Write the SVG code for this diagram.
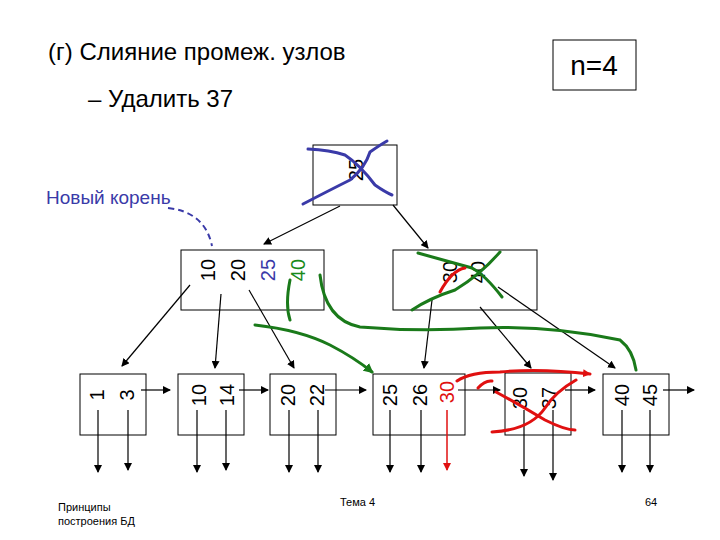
<svg xmlns="http://www.w3.org/2000/svg" width="720" height="540" viewBox="0 0 720 540">
<style>
text{font-family:"Liberation Sans",Arial,sans-serif}
.box{fill:#fff;stroke:#000;stroke-width:1}
.k{font-size:20px;text-anchor:middle;dominant-baseline:central}
.e{fill:none;stroke:#000;stroke-width:1.2;marker-end:url(#a)}
.g{fill:none;stroke:#1a7a1a;stroke-width:3;stroke-linecap:round}
.r{fill:none;stroke:#e01010;stroke-width:3;stroke-linecap:round}
.b{fill:none;stroke:#3a3aa8;stroke-width:3;stroke-linecap:round}
</style>
<defs>
<marker id="a" markerWidth="8" markerHeight="8" refX="7" refY="4" orient="auto" markerUnits="userSpaceOnUse"><path d="M0,0 L8,4 L0,8z"/></marker>
<marker id="ar" markerWidth="8" markerHeight="8" refX="7" refY="4" orient="auto" markerUnits="userSpaceOnUse"><path d="M0,0 L8,4 L0,8z" fill="#e01010"/></marker>
<marker id="ag" markerWidth="10" markerHeight="10" refX="8" refY="5" orient="auto" markerUnits="userSpaceOnUse"><path d="M0,0 L10,5 L0,10z" fill="#1a7a1a"/></marker>
</defs>
<text x="48" y="60" font-size="24">(г) Слияние промеж. узлов</text>
<text x="88" y="107" font-size="24">– Удалить 37</text>
<rect x="553" y="40" width="83" height="50" fill="none" stroke="#000"/>
<text x="594" y="75" font-size="28" text-anchor="middle">n=4</text>
<text x="46" y="204" font-size="19" fill="#3a3aa8">Новый корень</text>
<path d="M168,208 Q205,212 212,246" fill="none" stroke="#3a3aa8" stroke-width="2" stroke-dasharray="6,4"/>
<g id="root"><rect class="box" x="313" y="145" width="84" height="60"/><text class="k" transform="translate(356,170) rotate(-90)">25</text></g>
<g id="inL"><rect class="box" x="181" y="250" width="143" height="60"/>
<text class="k" transform="translate(208,270) rotate(-90)">10</text>
<text class="k" transform="translate(238,270) rotate(-90)">20</text>
<text class="k" fill="#3a3aa8" transform="translate(268,270) rotate(-90)">25</text>
<text class="k" fill="#1a8a1a" transform="translate(298,270) rotate(-90)">40</text></g>
<g id="inR"><rect class="box" x="393" y="250" width="144" height="60"/>
<text class="k" transform="translate(450,272) rotate(-90)">30</text>
<text class="k" transform="translate(478,272) rotate(-90)">40</text></g>
<g id="l1"><rect class="box" x="80" y="374" width="66" height="61"/><text class="k" transform="translate(97,395) rotate(-90)">1</text><text class="k" transform="translate(127,395) rotate(-90)">3</text></g>
<g id="l2"><rect class="box" x="178" y="374" width="66" height="61"/><text class="k" transform="translate(199,395) rotate(-90)">10</text><text class="k" transform="translate(227,395) rotate(-90)">14</text></g>
<g id="l3"><rect class="box" x="270" y="374" width="66" height="61"/><text class="k" transform="translate(288,395) rotate(-90)">20</text><text class="k" transform="translate(317,395) rotate(-90)">22</text></g>
<g id="l4"><rect class="box" x="373" y="374" width="92" height="61"/><text class="k" transform="translate(390,395) rotate(-90)">25</text><text class="k" transform="translate(420,395) rotate(-90)">26</text><text class="k" fill="#e01010" transform="translate(447,392) rotate(-90)">30</text></g>
<g id="l5"><rect class="box" x="505" y="373" width="66" height="62"/><text class="k" transform="translate(520,398) rotate(-90)">30</text><text class="k" transform="translate(549,398) rotate(-90)">37</text></g>
<g id="l6"><rect class="box" x="603" y="374" width="66" height="61"/><text class="k" transform="translate(622,395) rotate(-90)">40</text><text class="k" transform="translate(650,395) rotate(-90)">45</text></g>
<g id="connectors">
<path class="e" d="M340,206 L264,244"/>
<path class="e" d="M393,205 L428,248"/>
<path class="e" d="M190,285 L122,366"/>
<path class="e" d="M221,294 L215,368"/>
<path class="e" d="M249,290 L294,368"/>
<path class="e" d="M432,300 L424,368"/>
<path class="e" d="M480,307 L531,368"/>
<path class="e" d="M498,287 L615,368"/>
<path class="e" d="M141,390 L170,390"/>
<path class="e" d="M239,390 L268,390"/>
<path class="e" d="M325,390 L366,390"/>
<path class="e" d="M458,390 L500,390"/>
<path class="e" d="M565,390 L595,390"/>
<path class="e" d="M663,390 L694,390"/>
<path class="e" d="M98,410 L98,472"/><path class="e" d="M128,410 L128,470"/>
<path class="e" d="M197,410 L197,472"/><path class="e" d="M226,410 L226,470"/>
<path class="e" d="M289,410 L289,472"/><path class="e" d="M318,410 L318,472"/>
<path class="e" d="M390,410 L390,472"/><path class="e" d="M421,410 L421,472"/>
<path d="M447,410 L447,470" fill="none" stroke="#e01010" stroke-width="1.5" marker-end="url(#ar)"/>
<path class="e" d="M524,410 L524,476"/><path class="e" d="M553,410 L553,480"/>
<path class="e" d="M622,410 L622,472"/><path class="e" d="M650,410 L650,472"/>
</g>
<path class="b" d="M308,149 Q330,150 345,155 Q360,165 375,185 Q385,192 392,195"/>
<path class="b" d="M303,204 Q330,190 350,180 Q365,168 370,152 Q380,145 387,141"/>
<path class="g" d="M418,253 Q450,262 472,268 Q485,275 502,297"/>
<path class="g" d="M412,310 Q430,298 455,290 Q480,275 500,252"/>
<path class="r" d="M440,292 Q452,270 465,268"/>
<path class="g" d="M290,280 Q285,305 290,320 M320,275 Q325,320 360,327 Q420,332 480,328 Q550,325 620,340 Q633,350 636,370"/>
<path class="g" d="M255,325 Q300,330 330,345 Q355,358 372,372" marker-end="url(#ag)"/>
<path class="r" d="M457,381 Q470,372 500,372 Q540,368 590,374" marker-end="url(#ar)"/>
<path class="r" d="M478,388 Q485,380 492,381"/>
<path class="r" d="M496,392 Q520,405 545,420 Q565,430 575,430"/>
<path class="r" d="M492,432 Q530,430 545,408 Q555,392 576,380"/>
<text x="58" y="511" font-size="11">Принципы</text>
<text x="58" y="525" font-size="11">построения БД</text>
<text x="340" y="506" font-size="11">Тема 4</text>
<text x="645" y="506" font-size="11">64</text>
</svg>
